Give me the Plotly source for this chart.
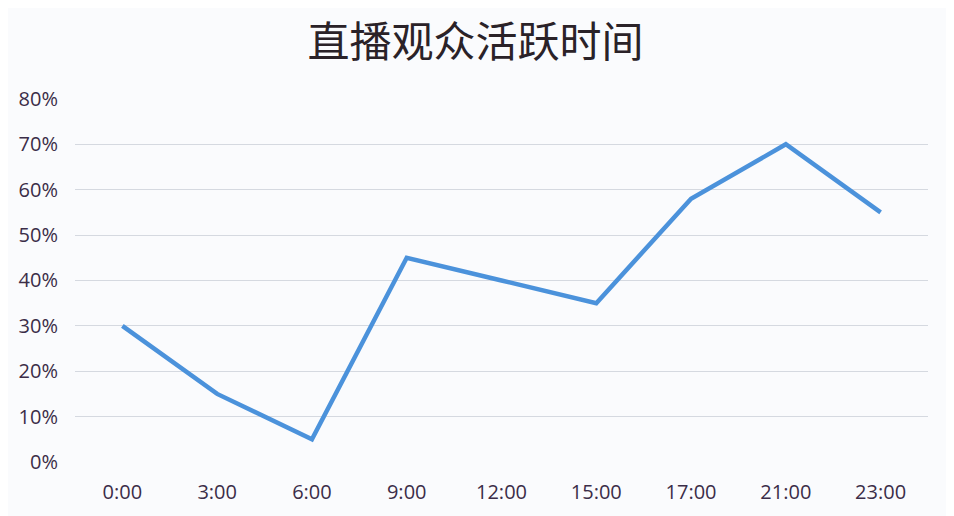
import plotly.graph_objects as go

times = ["0:00", "3:00", "6:00", "9:00", "12:00", "15:00", "17:00", "21:00", "23:00"]
active = [0.30, 0.15, 0.05, 0.45, 0.40, 0.35, 0.58, 0.70, 0.55]
y_ticks = [0, 0.1, 0.2, 0.3, 0.4, 0.5, 0.6, 0.7, 0.8]

fig = go.Figure(go.Scatter(
    x=times, y=active, mode="lines",
    line=dict(color="#4b92db", width=4.5),
    hoverinfo="x+y",
))

fig.update_layout(
    width=954, height=516,
    paper_bgcolor="#fafbfd", plot_bgcolor="#fafbfd",
    margin=dict(l=67, r=34, t=90, b=62),
    title=dict(text="直播观众活跃时间", x=0.49, xanchor="center", y=0.934, yanchor="middle",
               font=dict(family="Noto Sans CJK SC", size=42, color="#2a2228")),
    font=dict(family="Open Sans", size=20, color="#3b2d48"),
    showlegend=False,
)
fig.update_xaxes(showgrid=False, showline=False, ticks="", range=[-0.5, 8.5],
                 ticklabelstandoff=16, automargin=False)
fig.update_yaxes(range=[0, 0.802], tickvals=y_ticks, tickformat=".0%",
                 gridcolor="#d5d9e0", gridwidth=1, zeroline=False,
                 showline=False, ticks="", ticklabelstandoff=16, automargin=False)

fig.write_html("out.html")
